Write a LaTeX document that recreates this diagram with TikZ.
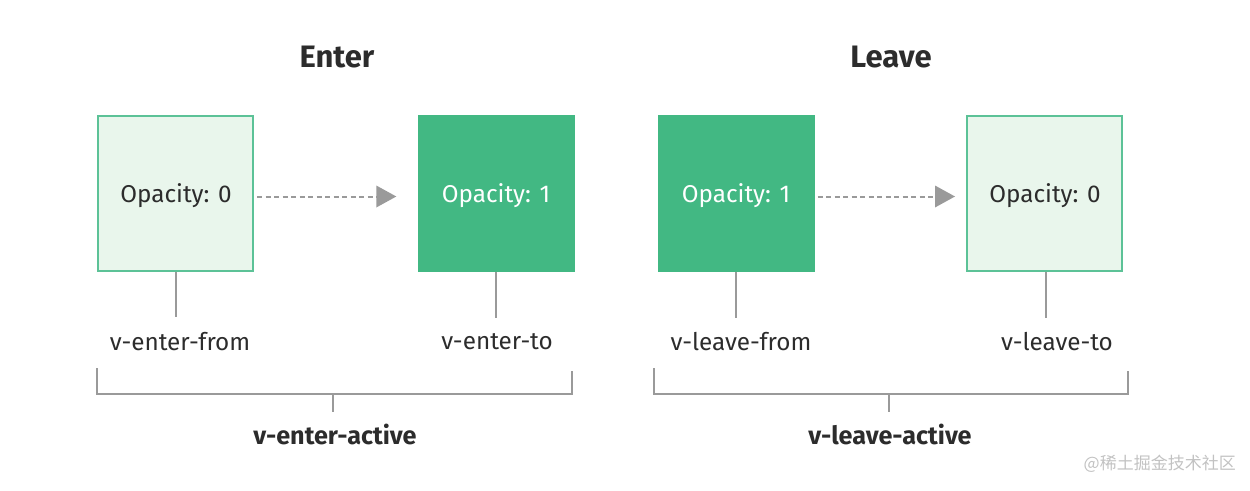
\documentclass[tikz,border=0pt]{standalone}
\usepackage{fontspec}
\setmainfont{Fira Sans}
\newfontfamily\cjkfont{Noto Sans CJK SC}
\usetikzlibrary{arrows.meta}
\definecolor{vgreen}{HTML}{42B883}
\definecolor{vborder}{HTML}{5CC297}
\definecolor{vlight}{HTML}{E9F6EC}
\definecolor{vgray}{HTML}{9A9A9A}
\definecolor{vtext}{HTML}{2C2C2C}
\tikzset{
  lightbox/.style={draw=vborder, line width=2pt, fill=vlight, minimum width=155pt, minimum height=155pt, inner sep=0pt},
  fullbox/.style={fill=vgreen, minimum width=157pt, minimum height=157pt, inner sep=0pt},
  flow/.style={draw=vgray, line width=2pt, dash pattern=on 5pt off 3.5pt, -{Triangle[length=20pt,width=22pt,fill=vgray,line width=0pt]}},
  tick/.style={draw=vgray, line width=2pt},
  label/.style={text=vtext, font=\fontsize{24.3}{28}\selectfont, inner sep=0pt},
  blabel/.style={text=vtext, font=\bfseries\fontsize{25.2}{28}\selectfont, inner sep=0pt},
  title/.style={text=vtext, font=\bfseries\fontsize{31}{34}\selectfont, inner sep=0pt},
}
\begin{document}
\begin{tikzpicture}[x=1pt,y=-1pt]
\useasboundingbox (0,0) rectangle (1250,490);
% titles
\node[title] (tenter) at (337,57) {Enter};
\node[title] (tleave) at (891,57) {Leave};
% boxes
\node[lightbox] (b1) at (175.5,193) {};
\node[fullbox] (b2) at (496,193) {};
\node[fullbox] (b3) at (736,193) {};
\node[lightbox] (b4) at (1044.5,193) {};
\node[label] (o1) at (176,196) {Opacity: 0};
\node[label, text=white] (o2) at (496,196) {Opacity: 1};
\node[label, text=white] (o3) at (736,196) {Opacity: 1};
\node[label] (o4) at (1045,196) {Opacity: 0};
% arrows
\path (b1.east) ++(3,3.5) coordinate (a1s);
\path (b2.west) ++(-21,3.5) coordinate (a1e);
\path (b3.east) ++(3,3.5) coordinate (a2s);
\path (b4.west) ++(-11,3.5) coordinate (a2e);
\draw[flow] (a1s) -- (a1e);
\draw[flow] (a2s) -- (a2e);
% ticks
\coordinate (t1) at (176,317);
\coordinate (t2) at (496,318);
\coordinate (t3) at (736,318);
\coordinate (t4) at (1046,318);
\draw[tick] (b1.south -| t1) -- (t1);
\draw[tick] (b2.south -| t2) -- (t2);
\draw[tick] (b3.south -| t3) -- (t3);
\draw[tick] (b4.south -| t4) -- (t4);
% labels
\node[label] (l1) at (180,342) {v-enter-from};
\node[label] (l2) at (497,342) {v-enter-to};
\node[label] (l3) at (741,342) {v-leave-from};
\node[label] (l4) at (1057,342) {v-leave-to};
% brackets
\coordinate (e1) at (97,368);
\coordinate (e2) at (572,371);
\coordinate (em) at (333,394);
\coordinate (emb) at (333,412);
\draw[tick] (e1) -- (e1 |- em) -- (e2 |- em) -- (e2);
\draw[tick] (em) -- (emb);
\node[blabel] (act1) at (335,434) {v-enter-active};
\coordinate (f1) at (654,368);
\coordinate (f2) at (1128,371);
\coordinate (fm) at (889,394);
\coordinate (fmb) at (889,412);
\draw[tick] (f1) -- (f1 |- fm) -- (f2 |- fm) -- (f2);
\draw[tick] (fm) -- (fmb);
\node[blabel] (act2) at (890,434) {v-leave-active};
% watermark
\node[text=vgray!60, font=\cjkfont\fontsize{17}{20}\selectfont, inner sep=0pt, anchor=east] (wm) at (1236,464) {@稀土掘金技术社区};
\end{tikzpicture}
\end{document}
